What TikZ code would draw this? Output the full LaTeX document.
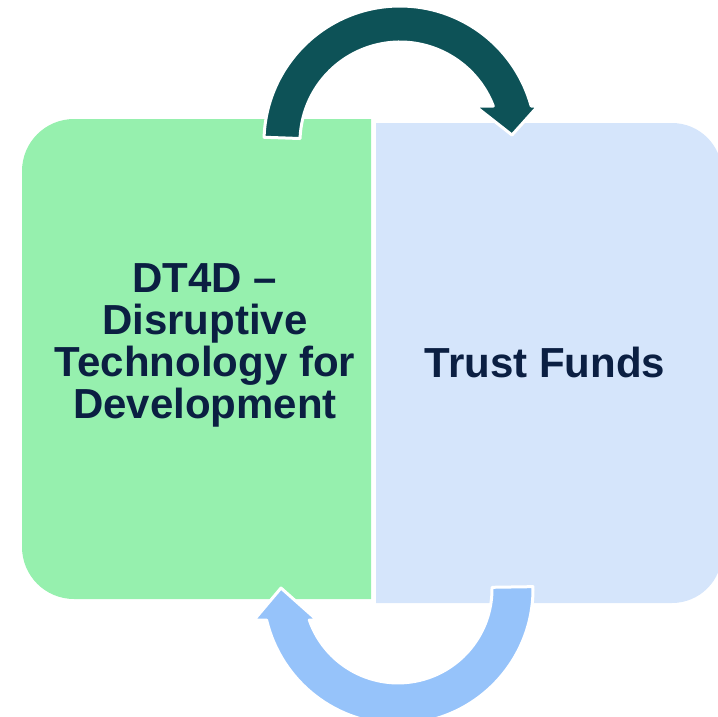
\documentclass[tikz,border=0pt]{standalone}
\usepackage{fontspec}
\setmainfont{Liberation Sans}
\definecolor{boxgreen}{HTML}{96F0AE}
\definecolor{boxblue}{HTML}{D5E5FB}
\definecolor{arrowteal}{HTML}{0D5257}
\definecolor{arrowblue}{HTML}{96C3FA}
\definecolor{textnavy}{HTML}{0B1F42}
\begin{document}
\begin{tikzpicture}[x=1pt,y=-1pt]

      \useasboundingbox (0,0) rectangle (718,716);

      % the two halves
      \fill[boxgreen] (196,119) [rounded corners=52pt] -- (22,119) -- (22,599) -- (196,599)
        [sharp corners] -- (371,599) -- (371,119) -- cycle;
      \fill[boxblue] (549,123) [rounded corners=50pt] -- (722,123) -- (722,603) -- (549,603)
        [sharp corners] -- (376,603) -- (376,123) -- cycle;

      \begin{scope}[every node/.style={inner sep=0pt, text=textnavy, align=center,
          font=\bfseries\fontsize{42}{42}\selectfont}]
        \node (dtd) at (205,345) {DT4D --\\Disruptive\\Technology for\\Development};
        \node[anchor=base] (tf) at (545,377) {Trust Funds};
      \end{scope}

      \begin{scope}[every path/.style={draw=white, line width=3pt, line join=round}]
        % top arrow
        \path[fill=arrowteal] (400,142) ++(-178:136) arc[start angle=-178, end angle=-15.35, radius=136]
          -- (538,106) -- (512,135) -- (475,106) -- (493.3,106)
          arc[start angle=-21.1, end angle=-178, radius=100] -- cycle;
        % bottom arrow
        \path[fill=arrowblue] (398,589) ++(-1:135) arc[start angle=-1, end angle=166.7, radius=135]
          -- (254,620) -- (281,588) -- (317,620) -- (309.3,620)
          arc[start angle=160.7, end angle=-1, radius=94] -- cycle;
      \end{scope}

    \end{tikzpicture}
\end{document}
